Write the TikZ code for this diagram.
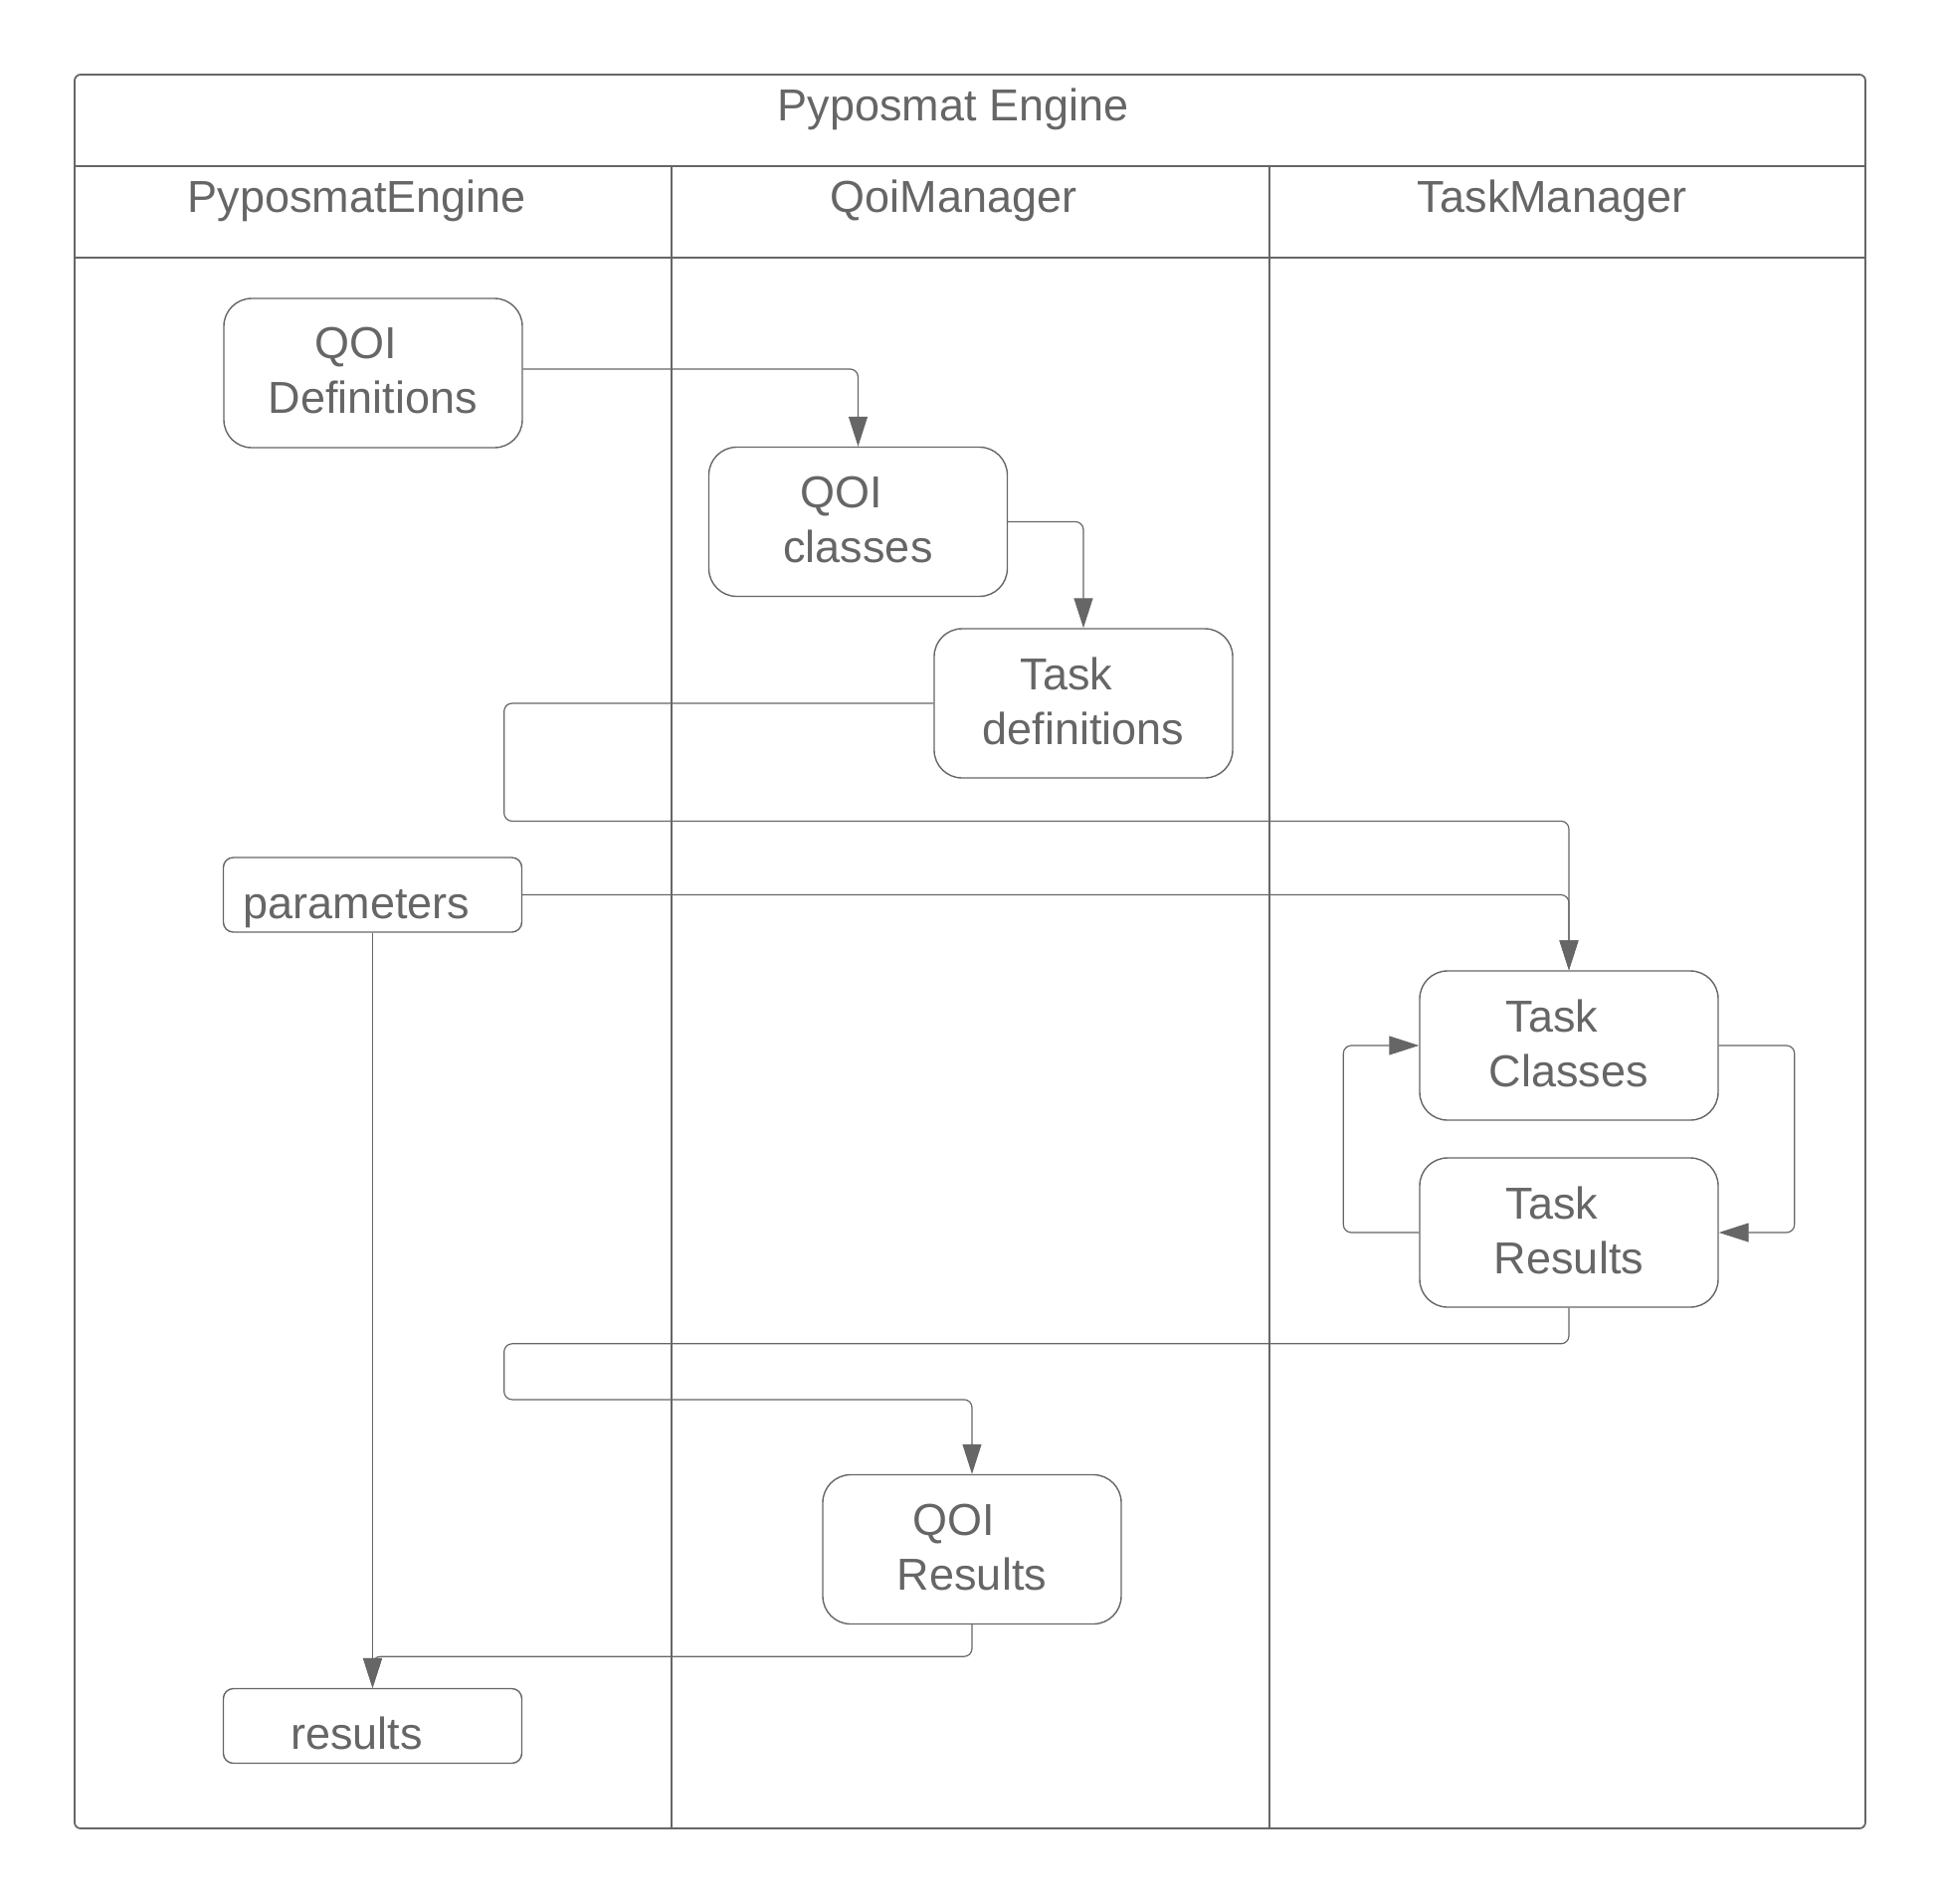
\documentclass[tikz,border=0pt]{standalone}
\usepackage{fontspec}
\setmainfont{Liberation Sans}
\usetikzlibrary{arrows.meta,calc}
\definecolor{ln}{HTML}{666666}
\begin{document}
\begin{tikzpicture}[x=0.5pt,y=-0.5pt,
  every node/.style={text=ln, font=\fontsize{22.5pt}{27.5pt}\selectfont},
  box/.style={draw=ln, line width=0.7pt, rounded corners=14pt, minimum width=150pt, minimum height=75pt, inner sep=0pt, align=center, text depth=2.5pt},
  pill/.style={draw=ln, line width=0.7pt, rounded corners=5pt, minimum width=150pt, minimum height=37.5pt, inner sep=0pt, text height=23.5pt, text depth=0pt},
  conn/.style={draw=ln, line width=0.6pt, rounded corners=4pt},
  arr/.style={conn, -{Triangle[length=15pt,width=9.5pt]}},
  frame/.style={draw=ln, line width=0.9pt},
  hdr/.style={anchor=base, inner sep=0pt}]
\useasboundingbox (0,0) rectangle (1950,1913);
% frame and lanes
\draw[frame, rounded corners=3pt] (75,75) rectangle (1875,1838);
\draw[frame] (75,166.7) -- (1875,166.7);
\draw[frame] (75,258.7) -- (1875,258.7);
\draw[frame] (675,166.7) -- (675,1838);
\draw[frame] (1276,166.7) -- (1276,1838);
\node[hdr] (title) at (958,121.7) {Pyposmat Engine};
\node[hdr] (lane1) at (358.6,213) {PyposmatEngine};
\node[hdr] (lane2) at (958.6,213) {QoiManager};
\node[hdr] (lane3) at (1560,213) {TaskManager};
% boxes
\node[box] (qdef) at (375,375) {QOI\kern17pt\\Definitions};
\node[box] (qcls) at (862.5,524.5) {QOI\kern17pt\\classes};
\node[box] (tdef) at (1089,707) {Task\kern17pt\\definitions};
\node[pill] (par) at (374.5,899.5) {parameters\kern16pt};
\node[box] (tcls) at (1577,1051) {Task\kern17pt\\Classes};
\node[box] (tres) at (1577,1239) {Task\kern17pt\\Results};
\node[box] (qres) at (977,1557.5) {QOI\kern18pt\\Results};
\node[pill] (res) at (374.5,1735) {results\kern16pt};
% waypoints
\coordinate (w0) at ($(qdef.east)+(0,-4)$);
\coordinate (w1) at (506.7,825.4);
\coordinate (w2) at (506.7,1350.8);
\coordinate (w3) at (506.7,1406.9);
% connectors
\draw[arr] (w0) -| (qcls.north);
\draw[arr] (qcls.east) -| (tdef.north);
\draw[arr] (tdef.west) -| (w1) -| (tcls.north);
\draw[arr] (par.east) -| (tcls.north);
\draw[arr] (par.south) -- (res.north);
\draw[arr] (tcls.east) -- ++(76,0) |- (tres.east);
\draw[arr] (tres.west) -- ++(-76,0) |- (tcls.west);
\draw[arr] (tres.south) |- (w2) -- (w3) -| (qres.north);
\draw[arr] (qres.south) -- ++(0,32) -| (res.north);
\end{tikzpicture}
\end{document}
